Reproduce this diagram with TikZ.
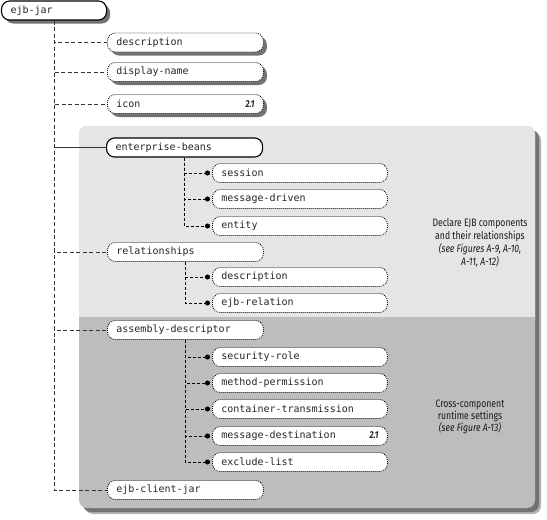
\documentclass[tikz,border=0pt]{standalone}
\usepackage{fontspec}
\newfontfamily\boxfont{DejaVu Sans Mono}
\newfontfamily\notefont[FakeStretch=0.8]{Fira Sans}
\usetikzlibrary{arrows.meta,shadows}

\begin{document}
\begin{tikzpicture}[x=1pt,y=-1pt,
  elem/.style={draw, rounded corners=8pt, fill=white, minimum height=19pt, inner xsep=9pt, inner ysep=0pt,
    anchor=west, align=left, text=black!85, font=\boxfont\fontsize{10}{12}\selectfont, line width=0.8pt},
  opt/.style={dash pattern=on 0.9pt off 1.1pt},
  req/.style={line width=1.1pt},
  dropsh/.style={drop shadow={shadow xshift=3.5pt, shadow yshift=-3.5pt, fill=black!55, opacity=1}},
  lvl/.style={elem, text width=138pt},
  subbox/.style={elem, opt, text width=157pt},
  trunk/.style={dash pattern=on 4pt off 2.5pt, line width=0.6pt, black!80},
  subline/.style={dash pattern=on 3pt off 2pt, line width=1pt, -{Circle[length=5pt]}, shorten >=2pt},
  note/.style={align=center, text=black!90, font=\notefont\fontsize{10.8}{13}\selectfont},
  vers/.style={font=\notefont\bfseries\itshape}
]
  \useasboundingbox (0,0) rectangle (547,520);
  \fill[black!30, rounded corners=8pt] (85,132) rectangle (541,514);
  \fill[black!55, rounded corners=8pt] (83,130) rectangle (539,512);
  \fill[black!26, rounded corners=8pt] (79,126) rectangle (535,508);
  \fill[black!10, rounded corners=8pt] (79,126) rectangle (535,330);
  \fill[black!26] (79,317) rectangle (535,330);

  \node[elem, req, dropsh, text width=87pt] (ejbjar) at (1,10.5) {ejb-jar};
  \node[lvl, opt, dropsh] (desc) at (107,42.5) {description};
  \node[lvl, opt, dropsh] (dname) at (107,72) {display-name};
  \node[lvl, opt, dropsh] (icon) at (107,104) {icon\hfill{\notefont\bfseries\itshape 2.1}};
  \node[lvl, req] (eb) at (106,147.5) {enterprise-beans};
  \node[lvl, opt] (rel) at (107,252) {relationships};
  \node[lvl, opt] (asm) at (107,330) {assembly-descriptor};
  \node[lvl, opt] (client) at (107,490) {ejb-client-jar};

  \node[subbox] (session) at (212,173) {session};
  \node[subbox] (mdriven) at (212,199) {message-driven};
  \node[subbox] (entity) at (212,226) {entity};
  \node[subbox] (rdesc) at (212,277) {description};
  \node[subbox] (erel) at (212,303) {ejb-relation};
  \node[subbox] (secrole) at (212,357) {security-role};
  \node[subbox] (mperm) at (212,383) {method-permission};
  \node[subbox] (ctrans) at (212,409) {container-transmission};
  \node[subbox] (mdest) at (212,436) {message-destination\hfill{\notefont\bfseries\itshape 2.1}};
  \node[subbox] (exlist) at (212,462) {exclude-list};

  \foreach \n in {client,desc,dname,icon,rel,asm}
    \draw[trunk] (ejbjar.south) |- (\n.west);
  \draw[line width=0.7pt, black!80] (ejbjar.south |- eb.west) -- (eb.west);
  \foreach \n in {session,mdriven,entity}
    \draw[subline] (eb.south) |- (\n.west);
  \foreach \n in {rdesc,erel}
    \draw[subline] (rel.south) |- (\n.west);
  \foreach \n in {secrole,mperm,ctrans,mdest,exlist}
    \draw[subline] (asm.south) |- (\n.west);

  \node[note] (ebnote) at (480,243) {Declare EJB components\\and their relationships\\\textit{(see Figures A-9, A-10,}\\\textit{A-11, A-12)}};
  \node[note, font=\notefont\fontsize{10.8}{12}\selectfont] (asmnote) at (470,417) {Cross-component\\runtime settings\\\textit{(see Figure A-13)}};
\end{tikzpicture}
\end{document}
